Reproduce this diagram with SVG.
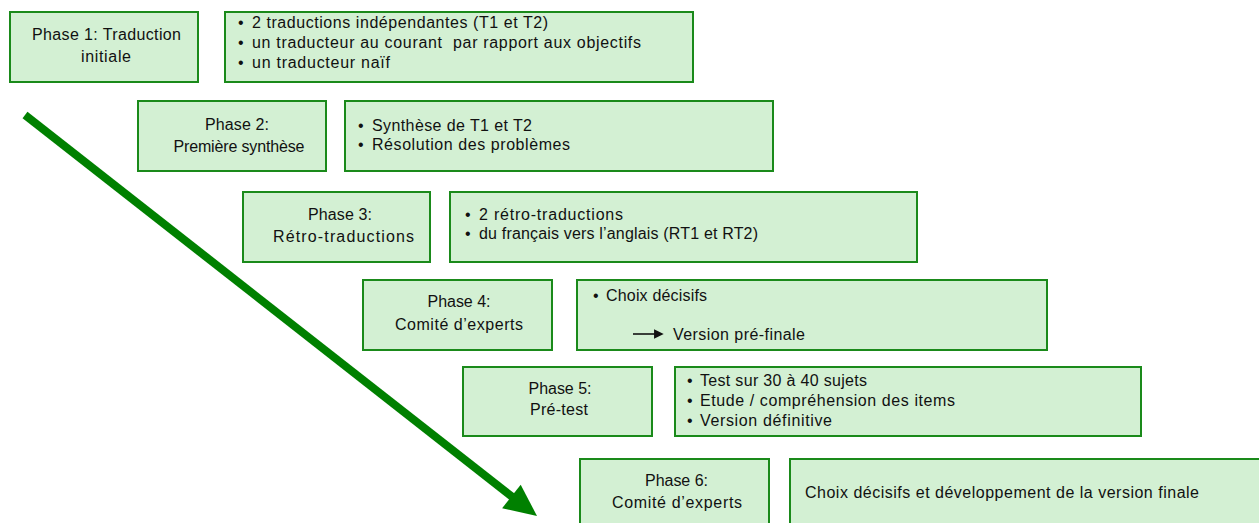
<svg xmlns="http://www.w3.org/2000/svg" width="1259" height="523" viewBox="0 0 1259 523">
<style>
.box{fill:#d3f0d3;stroke:#1a8a1a;stroke-width:2}
text{font-family:"Liberation Sans",Arial,sans-serif;font-size:16px;fill:#111}
.c{text-anchor:middle}
</style>
<defs>
<marker id="ah" viewBox="0 0 10 10" refX="2" refY="5" markerWidth="6" markerHeight="6" orient="auto"><path d="M0,0L10,5L0,10z" fill="#111"/></marker>
</defs>
<rect width="1259" height="523" fill="#fff"/>
<g id="connectors">
<line x1="25" y1="115" x2="515" y2="499" stroke="#008000" stroke-width="8"/>
<polygon points="537,516 520.7,484.7 502.1,508.3" fill="#008000"/>
</g>
<g id="phase1"><rect class="box" x="10" y="12" width="188" height="70"/>
<text class="c" x="106.5" y="40" textLength="149" lengthAdjust="spacing">Phase 1: Traduction</text><text class="c" x="106" y="62" textLength="50" lengthAdjust="spacing">initiale</text></g>
<g id="desc1"><rect class="box" x="225" y="12" width="468" height="70"/>
<text x="238" y="28">•</text><text x="252" y="28" textLength="296" lengthAdjust="spacing">2 traductions indépendantes (T1 et T2)</text>
<text x="238" y="48">•</text><text x="252" y="48" textLength="389" lengthAdjust="spacing">un traducteur au courant &#160;par rapport aux objectifs</text>
<text x="238" y="68">•</text><text x="252" y="68" textLength="138" lengthAdjust="spacing">un traducteur naïf</text></g>
<g id="phase2"><rect class="box" x="138" y="101" width="188" height="70"/>
<text class="c" x="237" y="130" textLength="64" lengthAdjust="spacing">Phase 2:</text><text class="c" x="239" y="152" textLength="131" lengthAdjust="spacing">Première synthèse</text></g>
<g id="desc2"><rect class="box" x="345" y="101" width="428" height="70"/>
<text x="358" y="131">•</text><text x="372" y="131" textLength="160" lengthAdjust="spacing">Synthèse de T1 et T2</text>
<text x="358" y="150">•</text><text x="372" y="150" textLength="198" lengthAdjust="spacing">Résolution des problèmes</text></g>
<g id="phase3"><rect class="box" x="243" y="192" width="187" height="70"/>
<text class="c" x="340" y="220" textLength="64" lengthAdjust="spacing">Phase 3:</text><text class="c" x="343.5" y="242" textLength="141" lengthAdjust="spacing">Rétro-traductions</text></g>
<g id="desc3"><rect class="box" x="450" y="192" width="467" height="70"/>
<text x="465" y="220">•</text><text x="479" y="220" textLength="144" lengthAdjust="spacing">2 rétro-traductions</text>
<text x="465" y="239">•</text><text x="479" y="239" textLength="279" lengthAdjust="spacing">du français vers l’anglais (RT1 et RT2)</text></g>
<g id="phase4"><rect class="box" x="363" y="280" width="189" height="70"/>
<text class="c" x="459" y="307" textLength="63" lengthAdjust="spacing">Phase 4:</text><text class="c" x="459" y="330" textLength="128" lengthAdjust="spacing">Comité d’experts</text></g>
<g id="desc4"><rect class="box" x="577" y="280" width="470" height="70"/>
<text x="593" y="301">•</text><text x="606" y="301" textLength="101" lengthAdjust="spacing">Choix décisifs</text>
<line x1="633" y1="334" x2="656" y2="334" stroke="#111" stroke-width="1.6" marker-end="url(#ah)"/>
<text x="673" y="340" textLength="132" lengthAdjust="spacing">Version pré-finale</text></g>
<g id="phase5"><rect class="box" x="463" y="367" width="189" height="69"/>
<text class="c" x="560" y="394" textLength="63" lengthAdjust="spacing">Phase 5:</text><text class="c" x="559" y="415" textLength="58" lengthAdjust="spacing">Pré-test</text></g>
<g id="desc5"><rect class="box" x="675" y="367" width="466" height="69"/>
<text x="687" y="386">•</text><text x="700" y="386" textLength="167" lengthAdjust="spacing">Test sur 30 à 40 sujets</text>
<text x="687" y="406">•</text><text x="700" y="406" textLength="255" lengthAdjust="spacing">Etude / compréhension des items</text>
<text x="687" y="426">•</text><text x="700" y="426" textLength="132" lengthAdjust="spacing">Version définitive</text></g>
<g id="phase6"><rect class="box" x="580" y="459" width="189" height="70"/>
<text class="c" x="676.5" y="486" textLength="63" lengthAdjust="spacing">Phase 6:</text><text class="c" x="677" y="508" textLength="130" lengthAdjust="spacing">Comité d’experts</text></g>
<g id="desc6"><rect class="box" x="790" y="459" width="475" height="70"/>
<text x="805" y="498" textLength="394" lengthAdjust="spacing">Choix décisifs et développement de la version finale</text></g>
</svg>
